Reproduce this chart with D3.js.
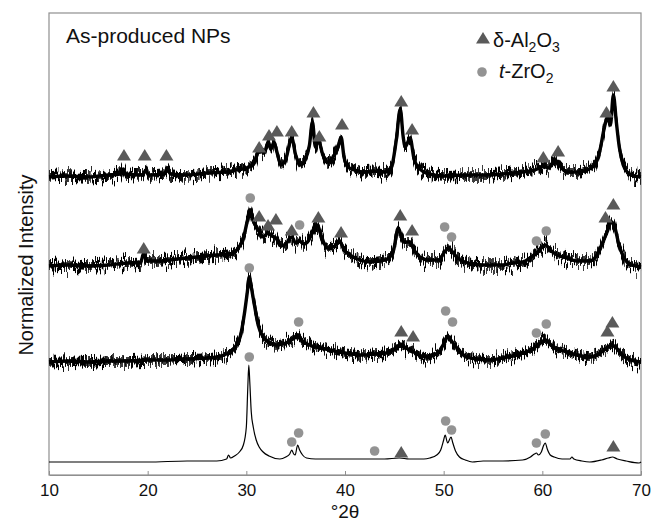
<!DOCTYPE html>
<html>
<head>
<meta charset="utf-8">
<script src="https://cdn.jsdelivr.net/npm/d3@7"></script>
<style>
	body { margin: 0; background: #fff; }
	text { font-family: "Liberation Sans", Arial, sans-serif; }
</style>
</head>
<body>
<div id="chart"></div>
<script>
// XRD patterns, [2theta, intensity above own baseline]
var trace1 = [[10,0],[12,1],[14,0],[16,2],[17.2,3],[17.5,8],[17.8,3],[19.5,2],[19.8,7],[20.1,2],[21.7,3],[22,9],[22.3,3],[24,2],[26,4],[28,5],[29,7],[30,9],[30.8,14],[31.3,27],[31.8,24],[32.2,34],[32.5,28],[32.8,35],[33.1,25],[33.5,12],[34,18],[34.6,39],[35,22],[35.5,12],[36,18],[36.4,32],[36.7,55],[37,30],[37.3,37],[37.7,24],[38.2,15],[38.8,20],[39.3,30],[39.6,40],[39.9,20],[40.3,10],[41,7],[42,5],[43,6],[44,5],[44.7,10],[45.2,37],[45.6,68],[45.9,40],[46.1,30],[46.6,39],[47,18],[47.5,9],[48.5,3],[50,1],[52,2],[54,2],[56,3],[58,5],[59.5,8],[60.1,11],[60.6,9],[61.3,17],[61.7,12],[62.5,5],[63.5,5],[64.5,7],[65.3,12],[65.8,25],[66.3,50],[66.6,60],[66.9,52],[67.2,82],[67.5,55],[67.8,30],[68.2,12],[68.7,4],[69.3,1],[70,0]];
var trace2 = [[10,0],[12,1],[14,0],[16,1],[18,3],[19.3,4],[19.6,13],[19.9,5],[21,5],[23,7],[25,9],[27,11],[28.3,12],[29.2,18],[29.7,28],[30.1,45],[30.4,56],[30.7,45],[31.1,38],[31.4,33],[31.7,29],[32.2,33],[32.6,30],[33,28],[33.5,20],[34,22],[34.6,29],[35,23],[35.4,25],[35.8,22],[36.2,24],[36.7,33],[37.2,41],[37.6,30],[38.2,18],[38.8,19],[39.5,24],[39.9,16],[40.5,11],[41.5,6],[42.5,4],[43.5,5],[44.3,7],[44.9,15],[45.4,38],[45.7,30],[46,24],[46.6,24],[47,16],[47.6,9],[48.5,6],[49.5,6],[50.1,14],[50.5,18],[50.9,14],[51.5,7],[52.5,3],[54,1],[56,1],[57,3],[58,4],[59,10],[59.6,15],[60.3,21],[60.8,16],[61.5,11],[62.5,8],[63.5,5],[64.8,5],[65.6,12],[66.1,23],[66.6,35],[67,44],[67.3,40],[67.8,20],[68.3,8],[68.8,2],[69.5,0],[70,-1]];
var trace3 = [[10,0],[12,1],[14,0],[16,1],[18,1],[20,2],[22,2],[24,3],[26,4],[27,5],[28.3,10],[29,17],[29.4,26],[29.8,48],[30.1,70],[30.3,85],[30.5,75],[30.8,58],[31.2,37],[31.7,25],[32.2,20],[33,17],[34,19],[34.7,23],[35.2,27],[35.7,21],[36.4,17],[37.5,14],[38.5,12],[40,9],[41.8,7],[43,8],[44.2,9],[45,13],[45.6,17],[46.2,14],[46.8,11],[47.5,7],[48.3,5],[49,7],[49.6,11],[50.1,20],[50.4,25],[50.8,21],[51.1,17],[51.7,10],[52.3,5],[53.5,3],[54.7,2],[56,4],[57,6],[58.1,9],[59,13],[59.7,18],[60.3,22],[60.8,18],[61.5,13],[62.5,10],[63.5,7],[64.8,5],[65.7,8],[66.4,13],[67,17],[67.5,14],[68,8],[68.5,4],[69.3,1],[70,0]];
var trace4 = [[10,0],[14,0],[18,0],[20,0],[24,1],[27,1],[28,3],[28.2,7],[28.4,4],[28.8,6],[29.3,10],[29.7,17],[30,35],[30.15,75],[30.25,97],[30.35,80],[30.5,50],[30.7,35],[31,22],[31.3,15],[31.7,10],[32.3,6],[33.4,3],[34,5],[34.4,8],[34.6,12],[34.8,8],[34.95,7],[35.2,17],[35.4,12],[35.7,7],[36.1,4],[37,3],[38,3],[40,3],[42,3],[43,3],[44,3],[45.5,4],[46.5,3],[48,3],[48.6,4],[49.3,7],[49.7,12],[50,22],[50.15,27],[50.4,19],[50.75,25],[50.9,20],[51.2,11],[51.6,5],[52.2,2],[52.9,0],[54,1],[56,1],[58,2],[58.8,5],[59.2,8],[59.4,9],[59.6,7],[59.9,10],[60.15,17],[60.3,19],[60.5,13],[60.8,7],[61.2,5],[62,3],[62.8,3],[63,5],[63.2,3],[64,1],[64.8,0],[66,2],[66.7,4],[67.1,5],[67.6,3],[68.5,1],[69.8,-1],[70,0]];
var traces = [trace1, trace2, trace3, trace4];
var offsets = [298, 209, 113, 13];

// phase markers: [2theta, intensity]
var alMarkers = [[17.6,320],[19.7,320],[21.9,320],[31.3,328],[32.3,340],[33.1,344],[34.6,344],[36.8,363],[37.4,339],[39.7,351],[45.7,374],[46.8,346],[60.1,318],[61.6,324],[66.5,363],[67.2,389],
	[19.6,227],[31.3,259],[32.2,250],[33.0,256],[34.6,245],[37.3,258],[39.6,243],[45.6,260],[46.8,245],[66.4,258],[67.2,271],
	[45.7,144],[46.9,139],[66.6,144],[67.1,153],
	[45.7,23],[67.2,29]];
var zrMarkers = [[30.4,277],[35.4,250],[50.1,248],[50.8,238],[59.4,234],[60.4,244],
	[30.3,207],[35.3,153],[50.2,164],[50.9,153],[59.4,142],[60.4,151],
	[30.3,118],[34.6,33],[35.3,42],[43.0,24],[50.2,54],[50.8,45],[59.4,32],[60.3,41]];

var xTicks = [10, 20, 30, 40, 50, 60, 70];

var width = 652, height = 523;
var margin = {left: 49, right: 11, top: 13, bottom: 48};

var svg = d3.select("#chart").append("svg")
	.attr("width", width)
	.attr("height", height);

var x = d3.scaleLinear().domain([10, 70]).range([margin.left, width - margin.right]);
var y = d3.scaleLinear().domain([0, 462]).range([height - margin.bottom, margin.top]);

// noise texture for the scans (visual only, does not touch the data)
var noiseScale = [18, 22, 19, 0];
var defs = svg.append("defs");
function addNoise(id, scale, seed) {
	var f = defs.append("filter").attr("id", id)
		.attr("x", "-2%").attr("y", "-50%").attr("width", "104%").attr("height", "200%");
	f.append("feTurbulence").attr("type", "fractalNoise")
		.attr("baseFrequency", "0.9 0.02").attr("numOctaves", 2).attr("seed", seed).attr("result", "turb");
	f.append("feColorMatrix").attr("in", "turb").attr("type", "matrix")
		.attr("values", "0 0 0 0 0.5  0 1.4 0 0 -0.2  0 0 0 0 0  0 0 0 0 1").attr("result", "map");
	f.append("feDisplacementMap").attr("in", "SourceGraphic").attr("in2", "map")
		.attr("scale", scale).attr("xChannelSelector", "R").attr("yChannelSelector", "G").attr("result", "disp");
	f.append("feMorphology").attr("in", "disp").attr("operator", "dilate").attr("radius", "0.4 2.2");
}
noiseScale.forEach(function(s, i) {
	if (!s) return;
	addNoise("noiseA" + i, s, i * 7 + 3);
	addNoise("noiseB" + i, s * 0.85, i * 7 + 11);
});

// frame
svg.append("rect")
	.attr("x", margin.left).attr("y", margin.top)
	.attr("width", width - margin.left - margin.right)
	.attr("height", height - margin.top - margin.bottom)
	.attr("fill", "none").attr("stroke", "#8f8f8f").attr("stroke-width", 1.2);

var line = d3.line()
	.x(function(d) { return x(d[0]); })
	.curve(d3.curveMonotoneX);

traces.forEach(function(t, i) {
	line.y(function(d) { return y(d[1] + offsets[i]); });
	if (noiseScale[i]) {
		["noiseA", "noiseB"].forEach(function(n) {
			svg.append("path").datum(t)
				.attr("fill", "none").attr("stroke", "#000")
				.attr("stroke-width", 1.4)
				.attr("filter", "url(#" + n + i + ")")
				.attr("d", line);
		});
	}
	svg.append("path")
		.datum(t)
		.attr("fill", "none")
		.attr("stroke", "#000")
		.attr("stroke-linejoin", "round")
		.attr("stroke-width", i == 3 ? 1.2 : 3.4)
		.attr("d", line);
});

// markers
svg.selectAll(".al")
	.data(alMarkers)
	.enter().append("path")
	.attr("transform", function(d) { return "translate(" + x(d[0]) + "," + y(d[1]) + ")"; })
	.attr("d", "M0,-6L7,5.5L-7,5.5Z")
	.attr("fill", "#5a5a5a");

svg.selectAll(".zr")
	.data(zrMarkers)
	.enter().append("circle")
	.attr("cx", function(d) { return x(d[0]); })
	.attr("cy", function(d) { return y(d[1]); })
	.attr("r", 4.8)
	.attr("fill", "#939393");

// x axis
var xAxis = svg.append("g")
	.attr("transform", "translate(0," + (height - margin.bottom) + ")")
	.call(d3.axisBottom(x).tickValues(xTicks).tickSizeInner(-4).tickSizeOuter(0).tickPadding(9));
xAxis.select(".domain").attr("stroke", "#8f8f8f").attr("stroke-width", 1.2);
xAxis.selectAll(".tick line").attr("stroke", "#8f8f8f");
xAxis.selectAll("text")
	.style("font-family", "'Liberation Sans', Arial, sans-serif")
	.attr("font-size", 17).attr("fill", "#111");

svg.append("text")
	.attr("x", x(40)).attr("y", 518)
	.attr("text-anchor", "middle")
	.attr("font-size", 19).attr("fill", "#111")
	.text("°2θ");

svg.append("text")
	.attr("transform", "translate(33,265) rotate(-90)")
	.attr("text-anchor", "middle")
	.attr("font-size", 20).attr("fill", "#111")
	.text("Normalized Intensity");

svg.append("text")
	.attr("x", 66).attr("y", 43)
	.attr("font-size", 21).attr("fill", "#111")
	.text("As-produced NPs");

// legend
svg.append("path")
	.attr("transform", "translate(483,38)")
	.attr("d", "M0,-6L7,5.5L-7,5.5Z")
	.attr("fill", "#5a5a5a");
var l1 = svg.append("text").attr("x", 493).attr("y", 47).attr("font-size", 20).attr("fill", "#111");
l1.append("tspan").text("δ-Al");
l1.append("tspan").attr("font-size", 14).attr("dy", 5).text("2");
l1.append("tspan").attr("dy", -5).text("O");
l1.append("tspan").attr("font-size", 14).attr("dy", 5).text("3");

svg.append("circle").attr("cx", 482).attr("cy", 72).attr("r", 4.8).attr("fill", "#939393");
var l2 = svg.append("text").attr("x", 499).attr("y", 78).attr("font-size", 20).attr("fill", "#111");
l2.append("tspan").attr("font-style", "italic").text("t");
l2.append("tspan").text("-ZrO");
l2.append("tspan").attr("font-size", 14).attr("dy", 5).text("2");
</script>
</body>
</html>
